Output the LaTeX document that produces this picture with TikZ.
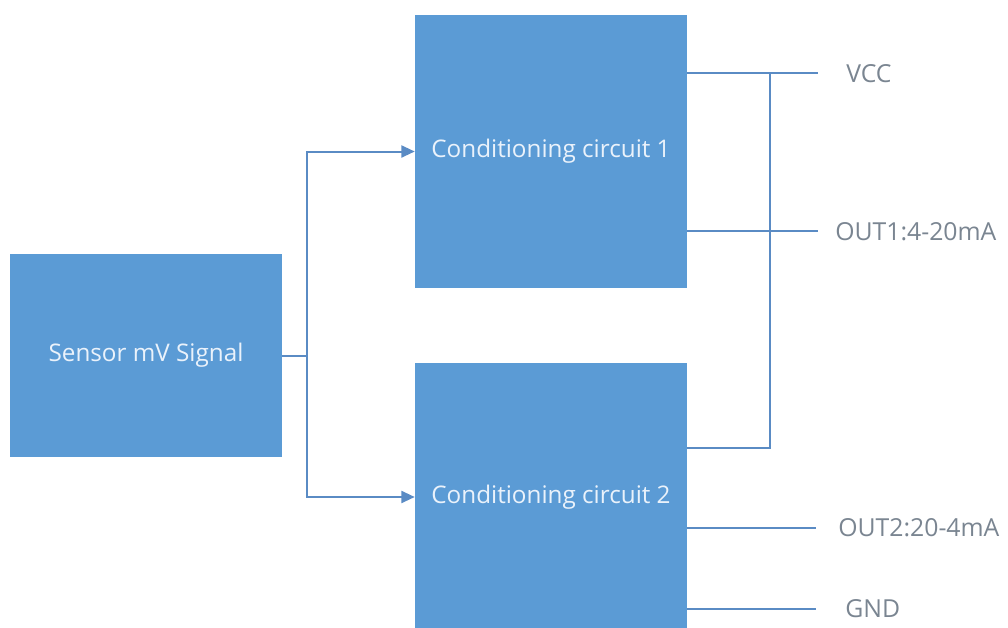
\documentclass[tikz,border=0pt]{standalone}
\usepackage{fontspec}
\setmainfont{Open Sans}
\usetikzlibrary{arrows.meta}
\definecolor{boxblue}{HTML}{5B9BD5}
\definecolor{linecol}{HTML}{5A8BC4}
\definecolor{labcol}{HTML}{7A8591}
\definecolor{boxtext}{HTML}{EAF2FB}
\tikzset{
  blk/.style={fill=boxblue, draw=none, inner sep=0pt, text=boxtext, font=\fontsize{18.2}{21}\selectfont},
  wire/.style={draw=linecol, line width=1.5pt},
  arr/.style={wire, -{Triangle[length=10pt,width=9pt]}},
  lab/.style={anchor=west, inner sep=0pt, text=labcol, font=\fontsize{18.6}{21}\selectfont}
}
\begin{document}
\begin{tikzpicture}[x=0.75pt,y=-0.75pt]
\useasboundingbox (0,0) rectangle (1008,628);
\begin{scope}
\clip (0,0) rectangle (1008,628);
\node[blk, minimum width=204pt, minimum height=152.25pt] (sensor) at (146,355.5) {Sensor mV Signal};
\node[blk, minimum width=204pt, minimum height=204.75pt] (c1) at (551,151.5) {Conditioning circuit 1};
\node[blk, minimum width=204pt, minimum height=201pt] (c2) at (551,497) {Conditioning circuit 2};
\end{scope}
% input distribution
\coordinate (split) at (307,355.5);
\draw[wire] (sensor.east) -- (split);
\draw[arr] (split) |- (c1.west);
\draw[arr] (split) |- (c2.west);
% outputs
\coordinate (vccend) at (818,73);
\coordinate (out1end) at (818,231);
\coordinate (out2end) at (816,528);
\coordinate (gndend) at (816,609);
\coordinate (vj) at (770,73);
\coordinate (c2pwr) at (687,448);
\draw[wire] (c1.east |- vccend) -- (vccend);
\draw[wire] (c1.east |- out1end) -- (out1end);
\draw[wire] (c2.east |- out2end) -- (out2end);
\draw[wire] (c2.east |- gndend) -- (gndend);
\draw[wire] (c2.east |- c2pwr) -| (vj);
\node[lab] (lvcc) at (846,74) {VCC};
\node[lab] (lout1) at (835,232) {OUT1:4-20mA};
\node[lab] (lout2) at (838,528) {OUT2:20-4mA};
\node[lab] (lgnd) at (845,609) {GND};
\end{tikzpicture}
\end{document}
